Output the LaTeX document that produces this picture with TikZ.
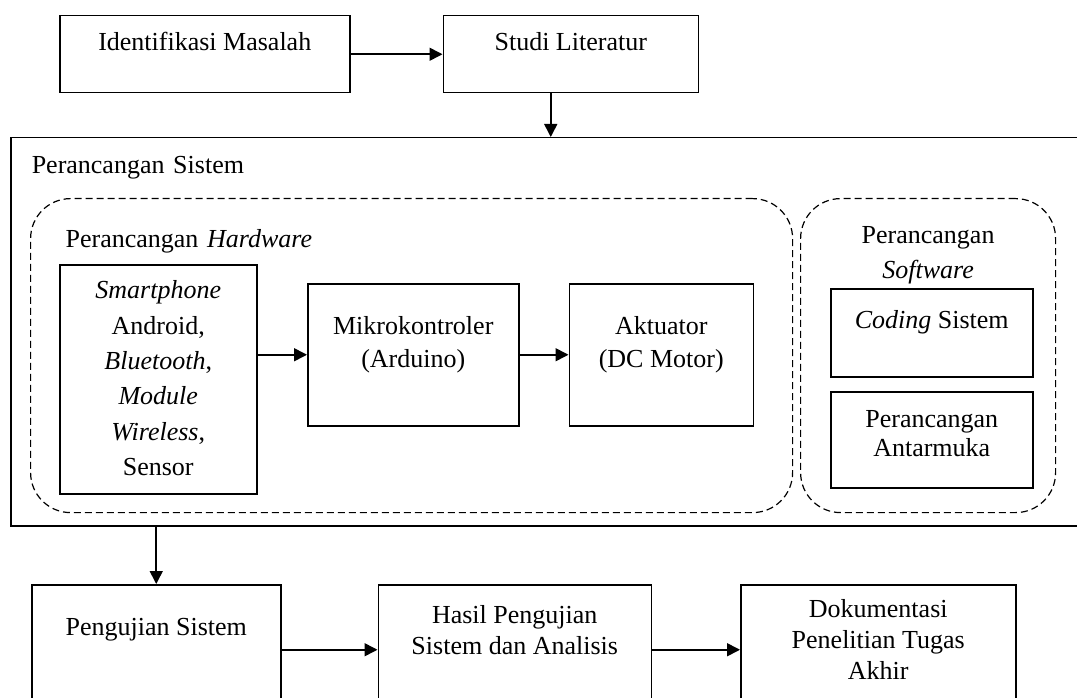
\documentclass[tikz,border=0pt]{standalone}
\usepackage{fontspec}
\setmainfont{Liberation Serif}
\usetikzlibrary{positioning,arrows.meta}
\tikzstyle{arrow} = [line width=1.6pt,-{Triangle[length=13pt,width=13pt]}]
\tikzstyle{kotak} = [draw,line width=1.5pt,inner sep=0pt,align=center,anchor=north west,font=\fontsize{26}{31}\selectfont]
\tikzstyle{grup} = [kotak,line width=1.2pt,dash pattern=on 7pt off 4pt,rounded corners=40pt]

\begin{document}
\begin{tikzpicture}[x=1pt,y=-1pt]
  \useasboundingbox (0,0) rectangle (1077,698);
  % tahap awal
  \node[kotak,minimum width=290pt,text height=35pt,text depth=42pt](id_masalah) at (59,15) {Identifikasi Masalah};
  \node[kotak,minimum width=255pt,text height=35pt,text depth=42pt](studi_lit)[right=92pt of id_masalah]{Studi Literatur};
  % perancangan
  \node[kotak,inner xsep=21pt,text width=1026pt,align=left,text height=36pt,text depth=352pt](sistem) at (10,137) {Perancangan Sistem};
  \node[grup,inner xsep=35pt,text width=692pt,align=left,text height=49pt,text depth=265pt](hw) at (30,198) {Perancangan \textit{Hardware}};
  \node[grup,minimum width=255pt,text height=80pt,text depth=234pt,font=\fontsize{26}{35}\selectfont](sw) at (800,198) {Perancangan\\\textit{Software}};
  \node[kotak,minimum width=197pt,text height=211pt,text depth=18pt,font=\fontsize{26}{35.4}\selectfont](hp) at (59,264) {\textit{Smartphone}\\Android,\\\textit{Bluetooth},\\\textit{Module}\\\textit{Wireless},\\Sensor};
  \node[kotak,minimum width=211pt,text height=84pt,text depth=58pt,font=\fontsize{26}{33}\selectfont](mikro) at (307,283) {Mikrokontroler\\(Arduino)};
  \node[kotak,minimum width=184pt,text height=84pt,text depth=58pt,font=\fontsize{26}{33}\selectfont](aktuator)[right=49pt of mikro]{Aktuator\\(DC Motor)};
  \node[kotak,minimum width=202pt,text height=40pt,text depth=48pt](coding) at (830,288) {\textit{Coding} Sistem};
  \node[kotak,minimum width=202pt,text height=65pt,text depth=31pt,font=\fontsize{26}{29}\selectfont](antarmuka) at (830,391) {Perancangan\\Antarmuka};
  % pengujian
  \node[kotak,minimum width=249pt,text height=51pt,text depth=79pt](uji) at (31,584) {Pengujian Sistem};
  \node[kotak,minimum width=273pt,text height=70pt,text depth=60pt](hasil)[right=96pt of uji]{Hasil Pengujian\\Sistem dan Analisis};
  \node[kotak,minimum width=275pt,text height=95pt,text depth=35pt](dok)[right=88pt of hasil]{Dokumentasi\\Penelitian Tugas\\Akhir};
  \draw[arrow] (id_masalah) -- (studi_lit);
  \draw[arrow] ([xshift=-20pt]studi_lit.south) -- ([xshift=-20pt]studi_lit.south |- sistem.north);
  \draw[arrow] (hp.east |- mikro) -- (mikro);
  \draw[arrow] (mikro) -- (aktuator);
  \draw[arrow] (uji.north |- sistem.south) -- (uji);
  \draw[arrow] (uji) -- (hasil);
  \draw[arrow] (hasil) -- (dok);
\end{tikzpicture}
\end{document}
